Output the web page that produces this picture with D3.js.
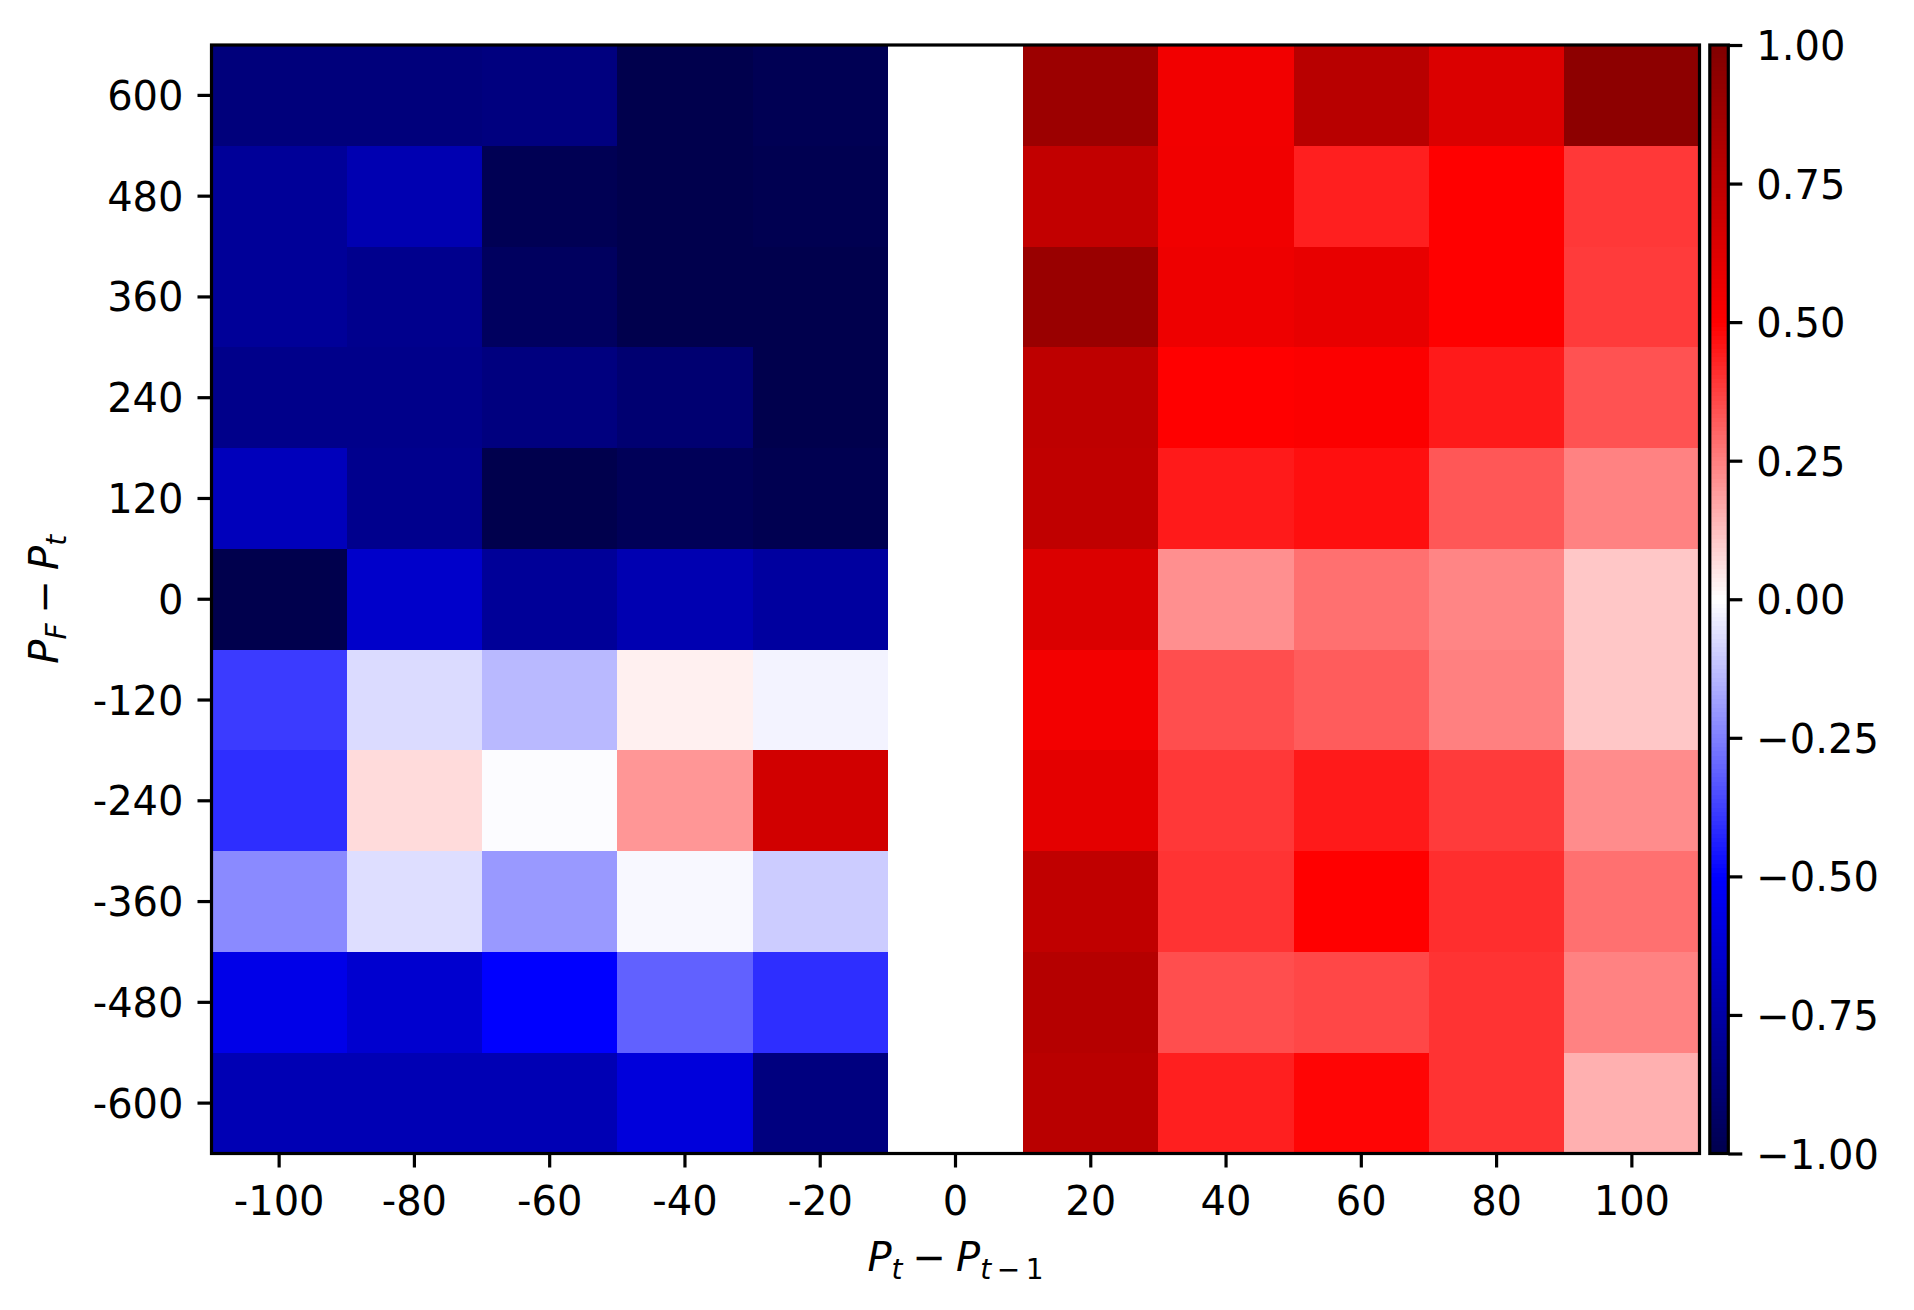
<!DOCTYPE html>
<html>
<head>
<meta charset="utf-8">
<script src="https://cdn.jsdelivr.net/npm/d3@7"></script>
<style>
  html, body { margin: 0; padding: 0; background: #ffffff; }
  svg { display: block; }
  text { font-family: "DejaVu Sans", sans-serif; fill: #000; }
</style>
</head>
<body>
<svg id="chart" width="1914" height="1310"></svg>
<script>
// ---- Data ----
const xCategories = [-100, -80, -60, -40, -20, 0, 20, 40, 60, 80, 100];
const yCategories = [600, 480, 360, 240, 120, 0, -120, -240, -360, -480, -600];

const row600  = [-0.87, -0.87, -0.86, -1.00, -0.98, 0, 0.89, 0.55, 0.78, 0.64, 0.95];
const row480  = [-0.79, -0.72, -0.98, -1.00, -0.99, 0, 0.74, 0.555, 0.44, 0.50, 0.39];
const row360  = [-0.79, -0.82, -0.95, -1.00, -1.00, 0, 0.90, 0.567, 0.59, 0.50, 0.385];
const row240  = [-0.83, -0.83, -0.86, -0.90, -1.00, 0, 0.755, 0.50, 0.51, 0.45, 0.34];
const row120  = [-0.69, -0.82, -1.00, -0.97, -0.99, 0, 0.75, 0.45, 0.47, 0.33, 0.245];
const row0    = [-1.00, -0.65, -0.79, -0.72, -0.77, 0, 0.64, 0.22, 0.28, 0.24, 0.11];
const rowM120 = [-0.385, -0.07, -0.137, 0.03, -0.024, 0, 0.547, 0.347, 0.32, 0.25, 0.11];
const rowM240 = [-0.41, 0.07, -0.005, 0.205, 0.68, 0, 0.605, 0.39, 0.45, 0.385, 0.225];
const rowM360 = [-0.23, -0.065, -0.20, -0.014, -0.10, 0, 0.75, 0.40, 0.50, 0.41, 0.28];
const rowM480 = [-0.565, -0.635, -0.50, -0.31, -0.41, 0, 0.79, 0.347, 0.36, 0.40, 0.245];
const rowM600 = [-0.71, -0.71, -0.71, -0.60, -0.86, 0, 0.775, 0.44, 0.49, 0.40, 0.155];

const values = [row600, row480, row360, row240, row120, row0, rowM120, rowM240, rowM360, rowM480, rowM600];

const colorbarTicks = [-1, -0.75, -0.5, -0.25, 0, 0.25, 0.5, 0.75, 1];

// ---- Layout ----
const svg = d3.select("#chart");
svg.append("rect").attr("width", 1914).attr("height", 1310).attr("fill", "#fff");

const plot = { x0: 211.5, x1: 1699.5, y0: 45, y1: 1153.5 };
const cbar = { x0: 1709.8, x1: 1728.3 };
const FONT = 40;
const LW = 3.2;
const TICK = 14;

const x = d3.scaleBand().domain(xCategories).range([plot.x0, plot.x1]).padding(0);
const y = d3.scaleBand().domain(yCategories).range([plot.y0, plot.y1]).padding(0);

// seismic colormap
const color = d3.scaleLinear()
  .domain([-1, -0.5, 0, 0.5, 1])
  .range(["rgb(0,0,77)", "rgb(0,0,255)", "rgb(255,255,255)", "rgb(255,0,0)", "rgb(128,0,0)"])
  .clamp(true);

// ---- Cells ----
const cells = [];
values.forEach((row, i) => row.forEach((v, j) => cells.push({ xv: xCategories[j], yv: yCategories[i], v })));

svg.append("g")
  .selectAll("rect")
  .data(cells)
  .join("rect")
  .attr("x", d => x(d.xv))
  .attr("y", d => y(d.yv))
  .attr("width", x.bandwidth() + 0.6)
  .attr("height", y.bandwidth() + 0.6)
  .attr("fill", d => color(d.v))
  .attr("shape-rendering", "crispEdges");

// ---- Axes ----
const xAxis = d3.axisBottom(x).tickSize(TICK).tickPadding(14).tickFormat(d => String(d));
const gx = svg.append("g").attr("transform", `translate(0,${plot.y1})`).call(xAxis);
gx.select(".domain").remove();
gx.selectAll(".tick line").attr("stroke", "#000").attr("stroke-width", LW);
gx.selectAll(".tick text").attr("font-size", FONT).attr("font-family", "DejaVu Sans").attr("fill", "#000")
  .attr("dy", null).attr("y", TICK + 14 + 33.5);

const yAxis = d3.axisLeft(y).tickSize(TICK).tickPadding(14).tickFormat(d => String(d));
const gy = svg.append("g").attr("transform", `translate(${plot.x0},0)`).call(yAxis);
gy.select(".domain").remove();
gy.selectAll(".tick line").attr("stroke", "#000").attr("stroke-width", LW);
gy.selectAll(".tick text").attr("font-size", FONT).attr("font-family", "DejaVu Sans").attr("fill", "#000")
  .attr("dy", null).attr("y", 14.5);

// spines
svg.append("rect")
  .attr("x", plot.x0).attr("y", plot.y0)
  .attr("width", plot.x1 - plot.x0).attr("height", plot.y1 - plot.y0)
  .attr("fill", "none").attr("stroke", "#000").attr("stroke-width", LW);

// ---- Colorbar ----
const cy = d3.scaleLinear().domain([-1, 1]).range([plot.y1, plot.y0]);
const nSteps = 256;
const steps = d3.range(nSteps).map(i => -1 + (2 * i) / nSteps);
svg.append("g")
  .selectAll("rect")
  .data(steps)
  .join("rect")
  .attr("x", cbar.x0)
  .attr("width", cbar.x1 - cbar.x0)
  .attr("y", d => cy(d + 2 / nSteps))
  .attr("height", d => cy(d) - cy(d + 2 / nSteps) + 0.5)
  .attr("fill", d => color(d + 1 / nSteps))
  .attr("shape-rendering", "crispEdges");

svg.append("rect")
  .attr("x", cbar.x0).attr("y", plot.y0)
  .attr("width", cbar.x1 - cbar.x0).attr("height", plot.y1 - plot.y0)
  .attr("fill", "none").attr("stroke", "#000").attr("stroke-width", LW);

const cAxis = d3.axisRight(cy).tickValues(colorbarTicks).tickSize(TICK).tickPadding(14).tickFormat(d3.format(".2f"));
const gc = svg.append("g").attr("transform", `translate(${cbar.x1},0)`).call(cAxis);
gc.select(".domain").remove();
gc.selectAll(".tick line").attr("stroke", "#000").attr("stroke-width", LW);
gc.selectAll(".tick text").attr("font-size", FONT).attr("font-family", "DejaVu Sans").attr("fill", "#000")
  .attr("dy", null).attr("y", 14.5);

// ---- Axis labels (math text) ----
const SUB = 28;
const xl = svg.append("text")
  .attr("x", (plot.x0 + plot.x1) / 2).attr("y", 1271)
  .attr("text-anchor", "middle").attr("font-size", FONT);
xl.append("tspan").attr("font-style", "italic").text("P");
xl.append("tspan").attr("font-style", "italic").attr("font-size", SUB).attr("dy", 8).text("t");
xl.append("tspan").attr("dy", -8).text("\u2005\u2212\u2005");
xl.append("tspan").attr("font-style", "italic").text("P");
xl.append("tspan").attr("font-style", "italic").attr("font-size", SUB).attr("dy", 8).text("t");
xl.append("tspan").attr("font-size", SUB).text("\u2009\u2212\u2009");
xl.append("tspan").attr("font-size", SUB).text("1");

const yl = svg.append("text")
  .attr("transform", `translate(58,${(plot.y0 + plot.y1) / 2}) rotate(-90)`)
  .attr("text-anchor", "middle").attr("font-size", FONT);
yl.append("tspan").attr("font-style", "italic").text("P");
yl.append("tspan").attr("font-style", "italic").attr("font-size", SUB).attr("dy", 8).text("F");
yl.append("tspan").attr("dy", -8).text("\u2005\u2212\u2005");
yl.append("tspan").attr("font-style", "italic").text("P");
yl.append("tspan").attr("font-style", "italic").attr("font-size", SUB).attr("dy", 8).text("t");
</script>
</body>
</html>
